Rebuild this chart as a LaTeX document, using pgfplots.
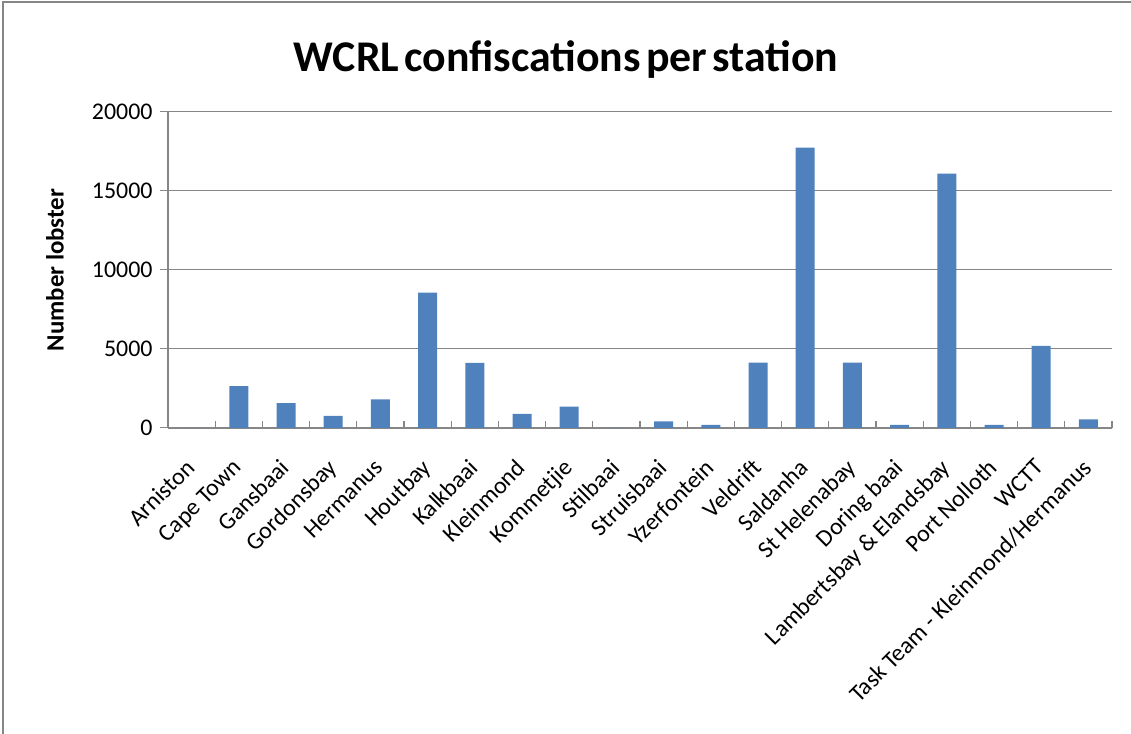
\documentclass[border=0pt]{standalone}
\usepackage{pgfplots}
\pgfplotsset{compat=1.18}
\usepackage{fontspec}
\setmainfont{Carlito}
\definecolor{barblue}{HTML}{4F81BD}
\definecolor{gridgray}{HTML}{868686}
\begin{document}
\begin{tikzpicture}[x=1bp,y=1bp]
\useasboundingbox (0,0) rectangle (1131,734);
\draw[gridgray,line width=1.2bp] (3,-5) -- (3,732) -- (1140,732);
\node[font=\fontsize{44}{48}\selectfont\bfseries, anchor=base, inner sep=0pt] at (566,662) {\spaceskip=0.12em WCRL confiscations per station};
\begin{axis}[
  at={(168bp,306bp)}, anchor=south west,
  scale only axis, width=944bp, height=316bp,
  ymin=0, ymax=20000, xmin=-0.5, xmax=19.5,
  ytick={0,5000,10000,15000,20000},
  scaled y ticks=false,
  /pgf/number format/assume math mode=true,
  yticklabel style={font=\fontsize{24}{28}\selectfont, /pgf/number format/1000 sep={}, anchor=east, xshift=-4bp},
  ymajorgrids, grid style={gridgray, line width=1bp},
  axis line style={gridgray, line width=1.2bp},
  axis x line*=bottom, axis y line*=left,
  xtick={0,...,19},
  major x tick style={draw=none},
  minor xtick={-0.5,0.5,...,19.5},
  minor x tick style={gridgray, line width=1.2bp},
  minor tick length=7bp,
  major tick length=8bp,
  major y tick style={gridgray, line width=1bp},
  ytick align=outside,
  xtick align=inside,
  xticklabels={Arniston,Cape Town,Gansbaai,Gordonsbay,Hermanus,Houtbay,Kalkbaai,Kleinmond,Kommetjie,Stilbaai,Struisbaai,Yzerfontein,Veldrift,Saldanha,St Helenabay,Doring baai,Lambertsbay \& Elandsbay,Port Nolloth,WCTT,Task Team - Kleinmond/Hermanus},
  xticklabel style={font=\fontsize{24}{28}\selectfont, yshift=-28bp, xshift=-7bp, rotate=45, anchor=north east, inner sep=1bp},
  ylabel={\bfseries Number lobster},
  ylabel style={font=\fontsize{25}{28}\selectfont, at={(axis description cs:-0.1197,0.5)}, anchor=center, rotate=0},
  clip=false,
]
\addplot[ybar, bar width=19bp, fill=barblue, draw=none] coordinates {
(0,0) (1,2650) (2,1580) (3,760) (4,1815) (5,8560) (6,4120) (7,890) (8,1350) (9,0)
(10,420) (11,190) (12,4130) (13,17740) (14,4130) (15,190) (16,16100) (17,190) (18,5190) (19,550)
};
\end{axis}
\end{tikzpicture}
\end{document}
